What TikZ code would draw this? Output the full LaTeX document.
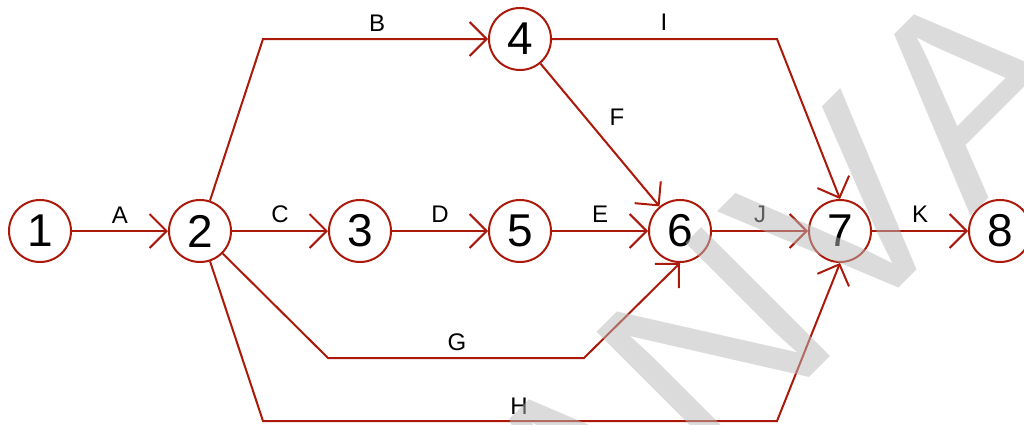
\documentclass[tikz,border=0pt]{standalone}
\usepackage{fontspec}
\setmainfont{Liberation Sans}
\newfontfamily\markfont[Kerning=Off]{Liberation Sans}
\usetikzlibrary{arrows.meta}
\definecolor{netred}{RGB}{170,25,10}
\definecolor{markgray}{RGB}{185,185,185}
\begin{document}
\begin{tikzpicture}[x=1pt,y=-1pt,
  event/.style={circle, draw=netred, line width=2pt, minimum size=62pt,
    inner sep=0pt, fill=white, font=\fontsize{46}{46}\selectfont},
  act/.style={draw=netred, line width=2pt,
    -{Straight Barb[length=17pt,width=34pt]}},
  lbl/.style={inner sep=0pt, font=\fontsize{24}{24}\selectfont}]
\useasboundingbox (0,0) rectangle (1024,424);
\fill[white] (0,0) rectangle (1024,424);

% events
\node[event] (n1) at (40,231) {1};
\node[event] (n2) at (200,231) {2};
\node[event] (n3) at (360,231) {3};
\node[event] (n4) at (520,39) {4};
\node[event] (n5) at (520,231) {5};
\node[event] (n6) at (680,231) {6};
\node[event] (n7) at (840,231) {7};
\node[event] (n8) at (1000,231) {8};

% bends of the routed activities
\coordinate (b1) at (263,39);
\coordinate (g1) at (328,358);
\coordinate (g2) at (584,358);
\coordinate (h1) at (263,421);
\coordinate (h2) at (777,421);
\coordinate (i1) at (777,39);

% activities
\draw[act] (n1) -- (n2);
\draw[act] (n2) -- (b1) -- (n4);
\draw[act] (n2) -- (n3);
\draw[act] (n3) -- (n5);
\draw[act] (n5) -- (n6);
\draw[act] (n4) -- (n6);
\draw[act] (n2) -- (g1) -- (g2) -- (n6.south);
\draw[act] (n2) -- (h1) -- (h2) -- (n7.south);
\draw[act] (n4) -- (i1) -- (n7.north);
\draw[act] (n6) -- (n7);
\draw[act] (n7) -- (n8);

% activity labels
\node[lbl] (la) at (120,215) {A};
\node[lbl] (lb) at (377,23) {B};
\node[lbl] (lc) at (280,214) {C};
\node[lbl] (ld) at (440,214) {D};
\node[lbl] (le) at (600,214) {E};
\node[lbl] (lf) at (617,117) {F};
\node[lbl] (lg) at (457,342) {G};
\node[lbl] (lh) at (519,406) {H};
\node[lbl] (li) at (664,22) {I};
\node[lbl] (lj) at (760,214) {J};
\node[lbl] (lk) at (920,214) {K};

% diagonal watermark
\begin{scope}
\clip (0,0) rectangle (1024,424);
\node[rotate=45, anchor=base west, inner sep=0pt, text=markgray,
  text opacity=0.5, font=\markfont\fontsize{265}{265}\selectfont]
  (mark) at (585,602) {ANVA};
\end{scope}
\end{tikzpicture}
\end{document}
